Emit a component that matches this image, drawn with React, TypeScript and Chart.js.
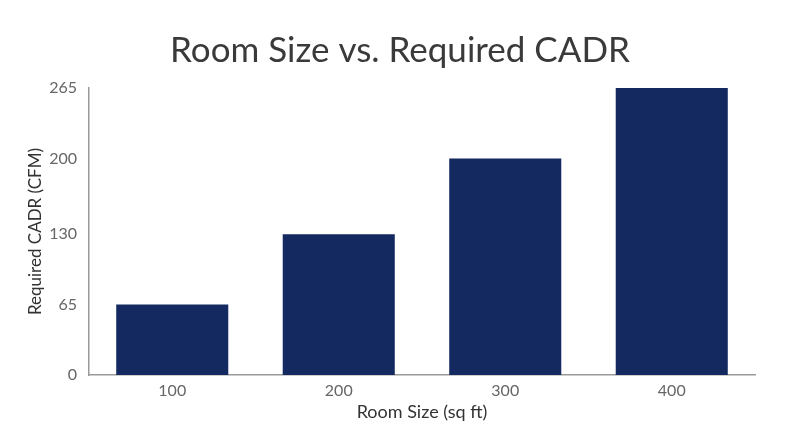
import { useEffect, useRef } from "react";
import { Chart, registerables } from "chart.js";

Chart.register(...registerables);

const roomSizes = ["100", "200", "300", "400"];
const requiredCadr = [65, 130, 200, 265];
const yTickValues = [0, 65, 130, 200, 265];

const FONT = "Lato, 'Open Sans', sans-serif";

export default function App() {
  const canvasRef = useRef<HTMLCanvasElement | null>(null);
  const chartRef = useRef<Chart | null>(null);

  useEffect(() => {
    document.body.style.margin = "0";
    chartRef.current?.destroy();
    chartRef.current = null;
    if (!canvasRef.current) return;

    chartRef.current = new Chart(canvasRef.current, {
      type: "bar",
      data: {
        labels: roomSizes,
        datasets: [
          {
            label: "Required CADR (CFM)",
            data: requiredCadr,
            backgroundColor: "#13295f",
            categoryPercentage: 0.673,
            barPercentage: 1,
          },
        ],
      },
      options: {
        animation: false,
        responsive: true,
        maintainAspectRatio: false,
        // equal side padding keeps the title centred on the canvas
        layout: { padding: { left: 45, right: 45, top: 10, bottom: 24 } },
        plugins: {
          legend: { display: false },
          tooltip: { enabled: false },
          title: {
            display: true,
            text: "Room Size vs. Required CADR",
            color: "#3a3a3a",
            font: { family: FONT, size: 35, weight: "normal" },
            padding: { top: 20, bottom: 16 },
          },
        },
        scales: {
          x: {
            afterFit: (axis) => {
              axis.height = 48;
            },
            grid: { display: false, drawTicks: false },
            border: { display: true, color: "#9a9a9a", width: 1.5 },
            ticks: {
              color: "#666",
              font: { family: FONT, size: 16 },
              padding: 6,
            },
            title: {
              display: true,
              text: "Room Size (sq ft)",
              color: "#333",
              font: { family: FONT, size: 18 },
              padding: { top: 0, bottom: 0 },
            },
          },
          y: {
            min: 0,
            max: 265,
            afterBuildTicks: (axis) => {
              axis.ticks = yTickValues.map((v) => ({ value: v }));
            },
            afterFit: (axis) => {
              axis.width = 44;
            },
            grid: { display: false, drawTicks: false },
            border: { display: true, color: "#9a9a9a", width: 1.5 },
            ticks: {
              color: "#666",
              font: { family: FONT, size: 16 },
              padding: 12,
            },
            title: {
              display: true,
              text: "Required CADR (CFM)",
              color: "#333",
              font: { family: FONT, size: 17 },
              padding: { top: -20, bottom: 0 },
            },
          },
        },
      },
    });

    return () => {
      chartRef.current?.destroy();
      chartRef.current = null;
    };
  }, []);

  return (
    <div style={{ width: 800, height: 447, position: "relative", background: "#fff" }}>
      <canvas ref={canvasRef}></canvas>
    </div>
  );
}
